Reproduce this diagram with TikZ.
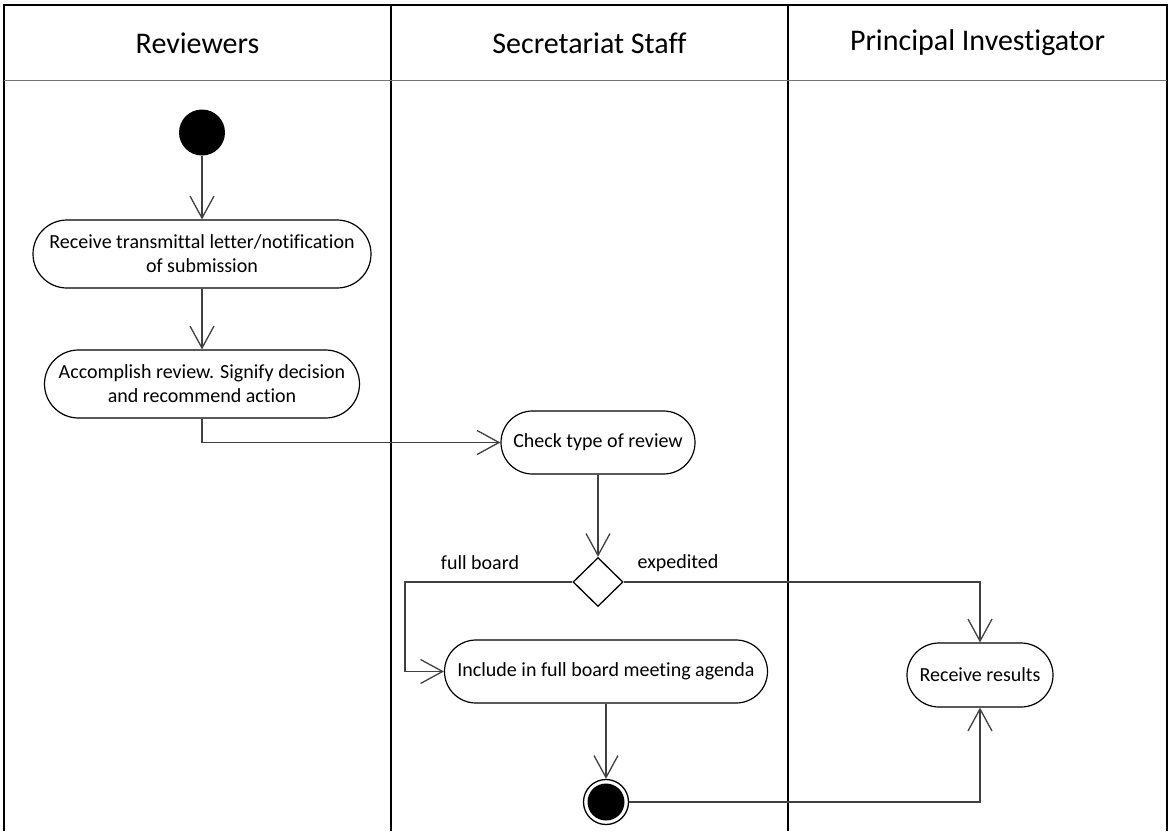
\documentclass[tikz,border=0pt]{standalone}
\usepackage{fontspec}
\setmainfont{Carlito}[Ligatures=NoCommon]
\usetikzlibrary{arrows.meta,shapes.geometric}
\begin{document}
\begin{tikzpicture}[x=1pt,y=-1pt,
  lane/.style={line width=2pt, black},
  hdrline/.style={line width=1pt, black!55},
  hdr/.style={font=\fontsize{30}{36}\selectfont, inner sep=0},
  act/.style={draw, line width=1.2pt, align=center, inner sep=0,
    font=\fontsize{20}{24}\selectfont},
  lbl/.style={font=\fontsize{20}{24}\selectfont, inner sep=0},
  flow/.style={draw=black!75, line width=1.3pt,
    -{Straight Barb[length=22pt,width=24pt,line width=1.3pt]}},
  plain/.style={draw=black!75, line width=1.3pt}]
\useasboundingbox (0,0) rectangle (1171,831);

% swimlanes
\draw[lane] (4,831) -- (4,5) -- (1167,5) -- (1167,831);
\draw[lane] (391,5) -- (391,831);
\draw[lane] (788,5) -- (788,831);
\draw[hdrline] (4,80) -- (1167,80);
\node[hdr] (h1) at (197.5,43) {Reviewers};
\node[hdr] (h2) at (589.5,43) {Secretariat Staff};
\node[hdr] (h3) at (977.5,43) {Principal Investigator};

% nodes
\node[circle, fill=black, minimum size=46pt, inner sep=0] (start) at (202,132.5) {};
\node[act, minimum width=338pt, minimum height=68pt, rounded corners=34pt] (n1) at (202,254)
  {Receive transmittal letter/notification\\of submission};
\node[act, minimum width=315pt, minimum height=68pt, rounded corners=34pt] (n2) at (202,384)
  {Accomplish review. Signify decision\\and recommend action};
\node[act, minimum width=194pt, minimum height=63pt, rounded corners=31.5pt] (chk) at (598,442.5)
  {Check type of review};
\node[diamond, draw, line width=1.3pt, minimum width=50pt, minimum height=49pt, inner sep=0] (dec) at (598,582) {};
\node[act, minimum width=323pt, minimum height=63pt, rounded corners=31.5pt] (inc) at (606,671.5)
  {Include in full board meeting agenda};
\node[act, minimum width=146pt, minimum height=64pt, rounded corners=32pt] (rr) at (980,675)
  {Receive results};
\node[circle, draw, line width=1.3pt, minimum size=45pt, inner sep=0,
  path picture={\fill[black] (path picture bounding box.center) circle (18.5pt);}] (fin) at (606,802) {};

\node[lbl] (lfb) at (480,563) {full board};
\node[lbl] (lex) at (678,563) {expedited};
\coordinate (fbc) at (405,582);

% connectors
\draw[flow] (start) -- (n1);
\draw[flow] (n1) -- (n2);
\draw[flow] (n2.south) |- (chk.west);
\draw[flow] (chk) -- (dec.north);
\draw[flow] (dec.west) -- (fbc) |- (inc.west);
\draw[flow] (dec.east) -| (rr.north);
\draw[flow] (inc) -- (fin);
\draw[flow] (fin.east) -| (rr.south);
\end{tikzpicture}
\end{document}
